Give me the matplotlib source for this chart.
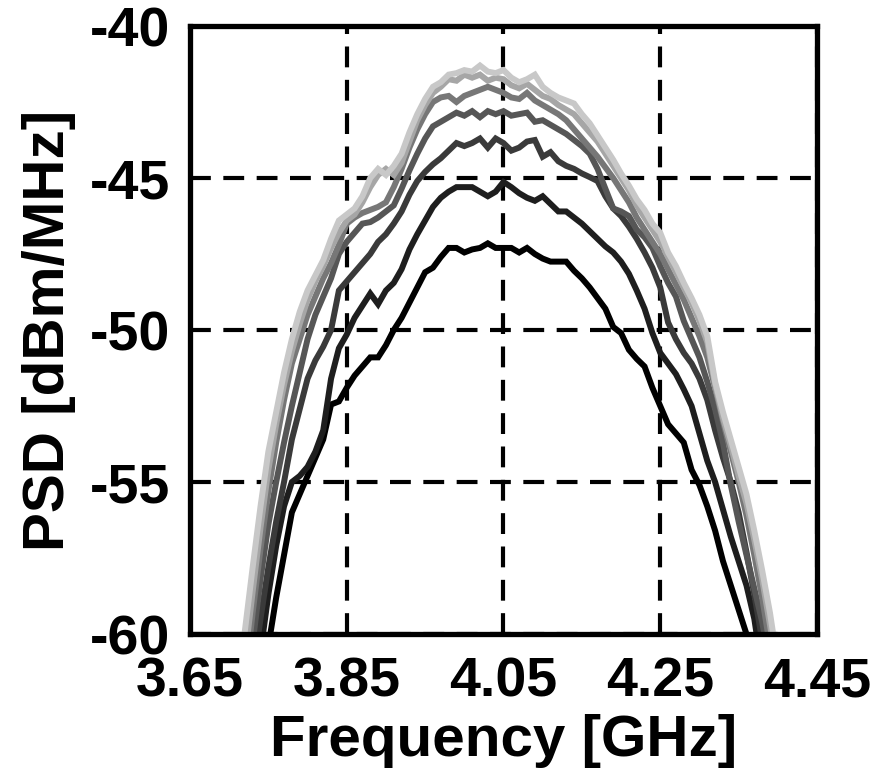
import numpy as np
import matplotlib
matplotlib.use("Agg")
import matplotlib.pyplot as plt

# frequency grid [GHz], 3.71 .. 4.40 step 0.01
freq = np.round(np.arange(371, 441) / 100.0, 2)

# PSD traces [dBm/MHz], darkest (lowest) to lightest (highest)
psd_1 = [-70, -68, -65, -62.3, -60.4, -58.8, -57.4, -56.0, -55.4, -54.8,
         -54.2, -53.6, -52.45, -52.35, -51.9, -51.5, -51.2, -50.9, -50.9, -50.5,
         -50.0, -49.6, -49.1, -48.6, -48.1, -47.95, -47.6, -47.3, -47.3, -47.45,
         -47.35, -47.3, -47.15, -47.3, -47.3, -47.3, -47.45, -47.3, -47.5, -47.65,
         -47.75, -47.75, -47.75, -48.05, -48.3, -48.6, -48.95, -49.3, -49.9, -50.1,
         -50.65, -50.95, -51.2, -51.9, -52.5, -53.1, -53.4, -53.7, -54.6, -55.1,
         -55.8, -56.6, -57.6, -58.4, -59.2, -60.0, -61.5, -63, -65, -67]
psd_2 = [-68, -65.5, -63.0, -60.6, -58.7, -57.1, -55.8, -55.0, -54.8, -54.5,
         -54.0, -53.3, -51.6, -50.6, -50.15, -49.6, -49.2, -48.8, -49.15, -48.7,
         -48.45, -48.0, -47.35, -46.85, -46.4, -45.95, -45.65, -45.45, -45.3, -45.3,
         -45.3, -45.45, -45.6, -45.45, -45.13, -45.3, -45.5, -45.65, -45.75, -45.6,
         -45.85, -46.1, -46.1, -46.3, -46.5, -46.75, -47.0, -47.25, -47.45, -47.75,
         -48.15, -48.7, -49.3, -50.1, -50.75, -51.1, -51.45, -51.95, -52.5, -53.4,
         -54.3, -55.0, -55.9, -56.8, -57.6, -58.4, -59.5, -61.2, -63, -65]
psd_3 = [-66.0, -63.5, -61.3, -59.5, -57.8, -56.3, -55.0, -53.6, -52.6, -51.6,
         -51.0, -50.55, -50.0, -48.7, -48.4, -48.1, -47.8, -47.5, -47.1, -46.85,
         -46.5, -46.1, -45.55, -45.1, -44.8, -44.55, -44.35, -44.1, -43.85, -43.95,
         -43.85, -43.7, -44.0, -43.7, -43.85, -44.1, -44.0, -43.8, -43.75, -44.3,
         -44.15, -44.45, -44.6, -44.7, -44.85, -44.97, -45.1, -45.6, -46.0, -46.25,
         -46.6, -47.0, -47.45, -47.95, -48.6, -49.75, -50.3, -50.75, -51.1, -51.6,
         -52.3, -53.3, -54.2, -55.0, -56.0, -57.3, -58.7, -60.2, -62.0, -64.0]
psd_4 = [-65.0, -62.5, -60.3, -58.2, -56.4, -55.0, -53.7, -52.5, -51.4, -50.3,
         -49.5, -48.9, -48.3, -47.5, -47.1, -46.8, -46.5, -46.45, -46.3, -46.1,
         -45.9, -45.35, -44.75, -44.2, -43.7, -43.3, -43.15, -43.0, -42.85, -42.95,
         -42.8, -43.0, -42.8, -42.9, -42.8, -42.95, -42.9, -42.85, -43.15, -43.1,
         -43.25, -43.4, -43.55, -43.75, -43.95, -44.2, -44.7, -45.35, -46.0, -46.1,
         -46.25, -46.7, -46.95, -47.3, -47.9, -48.45, -48.9, -49.7, -50.3, -50.9,
         -51.7, -52.6, -53.7, -55.1, -56.3, -57.4, -58.5, -59.6, -61.0, -62.5]
psd_5 = [-64.0, -61.6, -59.3, -57.2, -55.3, -53.7, -52.3, -51.1, -50.3, -49.5,
         -48.9, -48.3, -47.8, -47.2, -46.5, -46.3, -46.15, -46.05, -45.95, -45.8,
         -45.3, -44.7, -44.0, -43.4, -42.9, -42.5, -42.35, -42.3, -42.5, -42.3,
         -42.2, -42.1, -42.0, -42.1, -42.2, -42.35, -42.4, -42.2, -42.45, -42.6,
         -42.75, -42.9, -43.1, -43.4, -43.7, -44.0, -44.3, -44.65, -45.0, -45.4,
         -45.8, -46.3, -46.7, -47.1, -47.5, -48.0, -48.5, -49.0, -49.6, -50.2,
         -50.9, -51.9, -53.0, -54.0, -55.0, -56.1, -57.4, -58.8, -60.4, -62.0]
psd_6 = [-63.0, -60.8, -58.6, -56.5, -54.6, -53.1, -51.8, -50.7, -49.8, -49.0,
         -48.4, -47.9, -47.3, -46.8, -46.4, -46.2, -45.8, -45.3, -44.9, -44.7,
         -44.9, -44.5, -43.8, -43.1, -42.6, -42.2, -42.0, -41.75, -41.8, -41.6,
         -41.7, -41.6, -41.8, -41.7, -41.75, -41.95, -42.05, -41.9, -42.1, -42.3,
         -42.4, -42.6, -42.75, -42.9, -43.2, -43.5, -43.8, -44.2, -44.6, -45.0,
         -45.4, -45.9, -46.3, -46.7, -47.1, -47.6, -48.1, -48.6, -49.1, -49.7,
         -50.4, -51.8, -52.9, -53.8, -54.8, -55.7, -56.9, -58.2, -59.7, -61.3]
psd_7 = [-62.0, -59.9, -57.8, -55.8, -54.0, -52.7, -51.4, -50.3, -49.4, -48.7,
         -48.2, -47.7, -47.0, -46.4, -46.2, -46.0, -45.6, -45.0, -44.7, -44.9,
         -44.6, -44.2, -43.5, -42.9, -42.4, -42.0, -41.85, -41.6, -41.55, -41.45,
         -41.5, -41.3, -41.5, -41.55, -41.45, -41.7, -41.85, -41.75, -41.6, -42.0,
         -42.2, -42.35, -42.45, -42.55, -42.9, -43.2, -43.6, -44.0, -44.4, -44.85,
         -45.25, -45.7, -46.05, -46.5, -46.8, -47.45, -47.9, -48.45, -48.95, -49.5,
         -50.2, -51.7, -52.7, -53.6, -54.5, -55.4, -56.6, -57.9, -59.3, -61.0]

traces = [psd_1, psd_2, psd_3, psd_4, psd_5, psd_6, psd_7]
greys = ["#000000", "#1e1e1e", "#3a3a3a", "#565656", "#777777", "#a6a6a6", "#c8c8c8"]

xticks = [3.65, 3.85, 4.05, 4.25, 4.45]
xtick_labels = ["3.65", "3.85", "4.05", "4.25", "4.45"]
yticks = [-60, -55, -50, -45, -40]
ytick_labels = ["-60", "-55", "-50", "-45", "-40"]

plt.rcParams["font.family"] = ["Liberation Sans", "DejaVu Sans"]
plt.rcParams["font.weight"] = "bold"
plt.rcParams["axes.unicode_minus"] = False

fig = plt.figure(figsize=(8.82, 7.81), dpi=100)
ax = fig.add_axes([0.2154, 0.1882, 0.7109, 0.7785])

for y, c in zip(traces, greys):
    ax.plot(freq, y, color=c, lw=4.3, solid_joinstyle="miter", zorder=3)

ax.set_xlim(3.65, 4.45)
ax.set_ylim(-60, -40)
ax.set_xticks(xticks)
ax.set_xticklabels(xtick_labels)
ax.set_yticks(yticks)
ax.set_yticklabels(ytick_labels)
ax.tick_params(length=0, labelsize=40, pad=14)
ax.tick_params(axis="x", pad=16)

ax.set_axisbelow(True)
ax.grid(True, color="black", lw=3.0, linestyle=(0, (5, 3)))

for s in ax.spines.values():
    s.set_linewidth(3.8)
    s.set_zorder(5)

ax.set_xlabel("Frequency [GHz]", fontsize=42, fontweight="bold", labelpad=4)
ax.set_ylabel("PSD [dBm/MHz]", fontsize=42, fontweight="bold", labelpad=10)

fig.savefig("out.png", dpi=100)
